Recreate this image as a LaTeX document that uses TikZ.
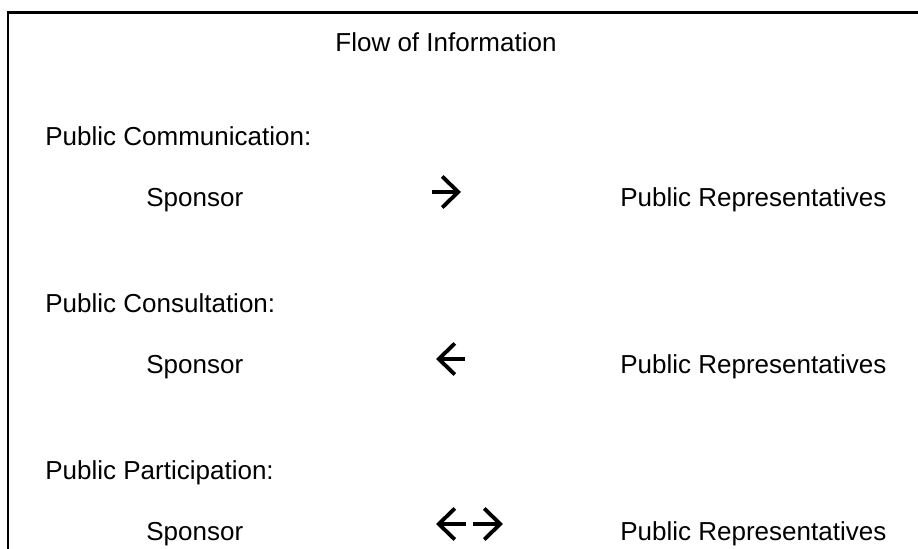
\documentclass[tikz,border=0pt]{standalone}
\usepackage{fontspec}
\setmainfont{Liberation Sans}
\usepackage{tikz}
\usetikzlibrary{arrows.meta}

\begin{document}
\begin{tikzpicture}[scale=1,
  lbl/.style={inner sep=0pt,anchor=base west,font=\fontsize{14.8pt}{18pt}\selectfont},
  flow/.style={line width=2.2pt,-{Straight Barb[length=3.2mm,width=6.2mm]}}]
\useasboundingbox (0,0) rectangle (18.36,10.98);
\draw[line width=1.7pt] (0.16,0) -- (0.16,10.72) -- (18.36,10.72);
%
\node[lbl,anchor=base] (title) at (8.92,9.94) {Flow of Information};
%
\node[lbl] (comm) at (0.90,8.06) {Public Communication:};
\node[lbl] (spon1) at (2.92,6.84) {Sponsor};
\node[lbl] (rep1) at (12.40,6.84) {Public Representatives};
\coordinate (a1) at (8.64,7.14);
\coordinate (b1) at (9.22,7.14);
\draw[flow] (a1) -- (b1);
%
\node[lbl] (cons) at (0.90,4.72) {Public Consultation:};
\node[lbl] (spon2) at (2.92,3.50) {Sponsor};
\node[lbl] (rep2) at (12.40,3.50) {Public Representatives};
\coordinate (a2) at (9.30,3.80);
\coordinate (b2) at (8.72,3.80);
\draw[flow] (a2) -- (b2);
%
\node[lbl] (part) at (0.90,1.38) {Public Participation:};
\node[lbl] (spon3) at (2.92,0.16) {Sponsor};
\node[lbl] (rep3) at (12.40,0.16) {Public Representatives};
\coordinate (a3) at (9.32,0.50);
\coordinate (b3) at (8.72,0.50);
\coordinate (c3) at (9.46,0.50);
\coordinate (d3) at (10.06,0.50);
\draw[flow] (a3) -- (b3);
\draw[flow] (c3) -- (d3);
\end{tikzpicture}
\end{document}
